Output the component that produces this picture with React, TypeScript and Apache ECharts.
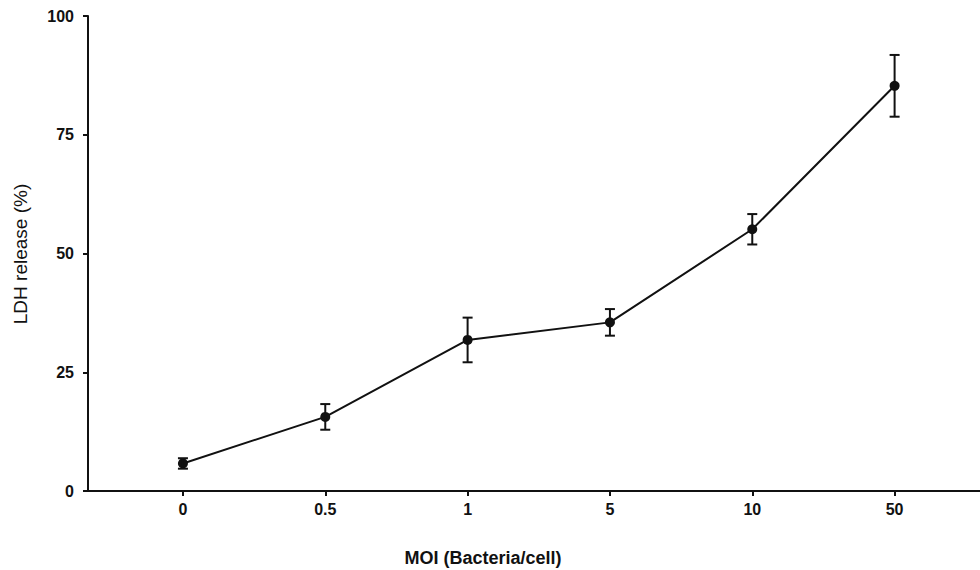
import React, { useEffect, useRef } from "react";
import * as echarts from "echarts";

// MOI categories (x axis labels)
const categories = ["0", "0.5", "1", "5", "10", "50"];
// LDH release mean values (%)
const ldhMeans = [5.8, 15.6, 31.8, 35.5, 55.1, 85.3];
// Error (± SD) values
const ldhErrors = [1.1, 2.7, 4.7, 2.8, 3.2, 6.5];
// Y tick values
const yTicks = [0, 25, 50, 75, 100];

const FONT = "'Liberation Sans', Arial, Helvetica, sans-serif";
const INK = "#111111";

export default function App() {
  const ref = useRef<HTMLDivElement>(null);

  useEffect(() => {
    document.body.style.margin = "0";
    if (!ref.current) return;
    const chart = echarts.init(ref.current, undefined, { renderer: "svg" });

    const idx = categories.map((_, i) => i);
    const lineData = ldhMeans.map((v, i) => [i, v]);
    const errData = ldhMeans.map((v, i) => [i, v - ldhErrors[i], v + ldhErrors[i]]);

    const option: any = {
      animation: false,
      backgroundColor: "#ffffff",
      grid: { left: 88, right: 0, top: 16, bottom: 79, containLabel: false },
      xAxis: {
        type: "value",
        min: -0.667,
        max: 5.6,
        splitLine: { show: false },
        axisLine: { show: true, onZero: false, lineStyle: { color: INK, width: 2 } },
        axisTick: {
          show: true,
          customValues: idx,
          length: 5,
          lineStyle: { color: INK, width: 2 },
        },
        axisLabel: {
          show: true,
          customValues: idx,
          margin: 10,
          fontFamily: FONT,
          fontWeight: "bold",
          fontSize: 16,
          color: INK,
          formatter: (v: number) => categories[Math.round(v)] ?? "",
        },
      },
      yAxis: {
        type: "value",
        min: yTicks[0],
        max: yTicks[yTicks.length - 1],
        interval: 25,
        splitLine: { show: false },
        axisLine: { show: true, onZero: false, lineStyle: { color: INK, width: 2 } },
        axisTick: { show: true, length: 5, lineStyle: { color: INK, width: 2 } },
        axisLabel: {
          margin: 14,
          fontFamily: FONT,
          fontWeight: "bold",
          fontSize: 16,
          color: INK,
        },
      },
      series: [
        {
          type: "line",
          data: lineData,
          symbol: "circle",
          symbolSize: 10,
          lineStyle: { color: INK, width: 2 },
          itemStyle: { color: INK },
          z: 3,
        },
        {
          type: "custom",
          data: errData,
          z: 4,
          renderItem: (params: any, api: any) => {
            const x = api.value(0);
            const lo = api.coord([x, api.value(1)]);
            const hi = api.coord([x, api.value(2)]);
            const w = 5;
            const style = { stroke: INK, lineWidth: 2 };
            return {
              type: "group",
              children: [
                { type: "line", shape: { x1: lo[0], y1: lo[1], x2: hi[0], y2: hi[1] }, style },
                { type: "line", shape: { x1: hi[0] - w, y1: hi[1], x2: hi[0] + w, y2: hi[1] }, style },
                { type: "line", shape: { x1: lo[0] - w, y1: lo[1], x2: lo[0] + w, y2: lo[1] }, style },
              ],
            };
          },
        },
      ],
      graphic: [
        {
          type: "text",
          x: 483,
          y: 558,
          style: {
            text: "MOI (Bacteria/cell)",
            fontFamily: FONT,
            fontWeight: "bold",
            fontSize: 18,
            fill: INK,
            align: "center",
            verticalAlign: "middle",
          },
        },
        {
          type: "text",
          x: 20,
          y: 254,
          rotation: Math.PI / 2,
          style: {
            text: "LDH release (%)",
            fontFamily: FONT,
            fontWeight: "normal",
            fontSize: 19,
            fill: INK,
            align: "center",
            verticalAlign: "middle",
          },
        },
      ],
    };

    chart.setOption(option);
    return () => chart.dispose();
  }, []);

  return <div ref={ref} style={{ width: 980, height: 570 }} />;
}
